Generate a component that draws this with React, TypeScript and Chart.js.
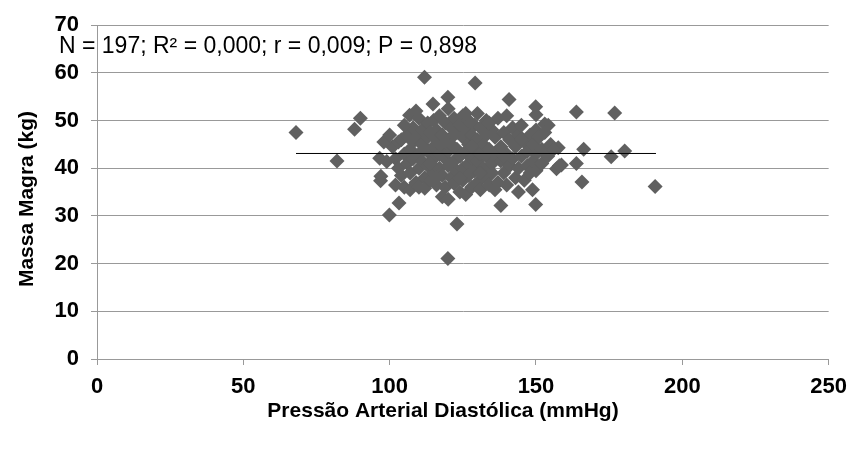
import React, { useEffect, useRef } from "react";
import { Chart, registerables } from "chart.js";

Chart.register(...registerables);

// Pressão Arterial Diastólica (mmHg)
const pressaoDiastolica = [
  68, 82, 88, 90, 96.6, 96.9, 99.9, 103.2, 106.8, 111.9, 114.8, 119.9, 129.2, 123, 119.9, 138, 149.9, 144, 148.8, 140.8,
  149.9, 150, 163.8, 176.9, 166.3, 180.3, 175.7, 165.7, 157, 163.8, 157.6, 153, 190.7, 158.7, 154.2,
  101, 102, 103, 103, 104, 104, 105, 105, 106, 106, 107, 107, 107, 108, 108, 108, 109, 109, 110, 110,
  110, 110, 111, 111, 111, 112, 112, 113, 113, 113, 113, 114, 114, 115, 115, 115, 115, 116, 116, 116,
  117, 117, 117, 118, 118, 118, 118, 119, 119, 119, 120, 120, 120, 120, 120, 121, 121, 121, 122, 122,
  122, 123, 123, 123, 124, 124, 124, 125, 125, 125, 125, 126, 126, 126, 127, 127, 127, 127, 128, 128,
  128, 129, 129, 129, 130, 130, 130, 130, 131, 131, 131, 132, 132, 133, 133, 133, 133, 134, 134, 135,
  135, 135, 136, 136, 137, 137, 138, 138, 139, 139, 140, 140, 140, 141, 141, 142, 142, 143, 143, 144,
  144, 145, 145, 146, 146, 147, 147, 148, 148, 149, 149, 150, 150, 150, 151, 152, 152, 153, 154, 155,
  156, 158,
  98, 99, 97, 100, 102, 105, 109, 112, 114, 116, 119, 122, 124, 126, 128, 131, 134, 136, 139, 145,
];

// Massa Magra (kg)
const massaMagra = [
  47.5, 41.5, 48.2, 50.5, 42.1, 37.4, 30.2, 32.7, 51.1, 59.1, 53.5, 54.9, 57.9, 28.3, 21.1, 32.2, 32.4, 35, 35.5, 54.4,
  52.9, 51.2, 51.8, 51.6, 44.0, 43.6, 42.4, 37.1, 39.9, 41, 44.3, 49.3, 36.2, 40.7, 49,
  44.5, 42, 45.5, 40, 46, 38.5, 43, 36, 47, 41, 44, 39, 35.5, 48.5, 45.5, 42, 37, 46.5, 50.5, 43,
  40, 36, 48, 45, 41.5, 38, 35.8, 49.5, 46.5, 43.5, 40.5, 47.5, 37.5, 50, 44.5, 42, 39, 48, 46, 36.5,
  51, 43, 40, 47, 44.5, 38.5, 34, 49.5, 42, 36, 52.5, 46, 43.5, 40.5, 33.5, 48.5, 45, 38, 50.5, 41.5,
  36.8, 47.5, 44, 39.5, 49, 42.5, 35, 51, 46.5, 40, 37.5, 48, 43.5, 34.5, 50, 45, 41, 38.5, 47, 42,
  36, 49, 44, 39.5, 51.5, 46, 41.5, 37, 48.5, 43, 35.5, 45, 40, 50, 47, 42.5, 38, 44, 36.5, 48,
  41, 39, 46.5, 43, 50.5, 37, 44.5, 41.5, 47.5, 39, 51, 43, 36.5, 46, 40.5, 48.5, 42, 44.5, 38, 47,
  40, 49, 42.5, 45.5, 37.5, 43.5, 40.5, 47, 39, 45, 41.5, 48, 43, 39.5, 46.5, 44, 41, 47.5, 42.5, 45,
  44, 40.5,
  45.5, 41.4, 38.3, 47, 36.5, 49, 52, 44, 41, 38, 45.5, 47, 38, 51.5, 44.5, 39, 49.5, 35.5, 42.5, 46,
];

// Linha de tendência
const trendX = [68, 191];
const trendY = [43.1, 43.1];

const xTickValues = [0, 50, 100, 150, 200, 250];
const yTickValues = [0, 10, 20, 30, 40, 50, 60, 70];

const annotationText = "N = 197; R² = 0,000; r = 0,009; P = 0,898";
const xTitle = "Pressão Arterial Diastólica (mmHg)";
const yTitle = "Massa Magra (kg)";

const FONT = "'Liberation Sans', Arial, sans-serif";

export default function App() {
  const canvasRef = useRef<HTMLCanvasElement | null>(null);

  useEffect(() => {
    const canvas = canvasRef.current;
    if (!canvas) return;

    const textPlugin = {
      id: "textPlugin",
      afterDraw(chart: any) {
        const ctx = chart.ctx as CanvasRenderingContext2D;
        ctx.save();
        ctx.fillStyle = "#000";
        ctx.font = `23px ${FONT}`;
        ctx.textAlign = "left";
        ctx.textBaseline = "middle";
        ctx.fillText(annotationText, 59, 47);

        ctx.font = `bold 21px ${FONT}`;
        ctx.textAlign = "center";
        ctx.fillText(xTitle, 443, 411);

        ctx.translate(27, 199);
        ctx.rotate(-Math.PI / 2);
        ctx.fillText(yTitle, 0, 0);
        ctx.restore();
      },
    };

    const chart = new Chart(canvas, {
      type: "scatter",
      data: {
        datasets: [
          {
            label: "Massa Magra",
            data: pressaoDiastolica.map((x, i) => ({ x, y: massaMagra[i] })),
            pointStyle: "rectRot",
            pointRadius: 7.5,
            backgroundColor: "#606060",
            borderColor: "#606060",
            borderWidth: 0,
            order: 2,
          },
          {
            type: "line",
            label: "Tendência",
            data: trendX.map((x, i) => ({ x, y: trendY[i] })),
            borderColor: "#000",
            borderWidth: 1,
            pointRadius: 0,
            fill: false,
            order: 1,
          } as any,
        ],
      },
      options: {
        responsive: false,
        animation: false,
        layout: { padding: { top: 22, right: 25, left: 0, bottom: 0 } },
        plugins: {
          legend: { display: false },
          tooltip: { enabled: false },
        },
        scales: {
          x: {
            type: "linear",
            min: 0,
            max: 250,
            afterBuildTicks: (scale: any) => {
              scale.ticks = xTickValues.map((v) => ({ value: v }));
            },
            afterFit: (scale: any) => {
              scale.height = 94;
            },
            ticks: {
              color: "#000",
              font: { family: FONT, size: 22, weight: "bold" },
              padding: 9,
            },
            grid: {
              drawOnChartArea: false,
              drawTicks: true,
              tickLength: 6,
              color: "#999",
            },
            border: { display: true, color: "#999" },
          },
          y: {
            type: "linear",
            min: 0,
            max: 70,
            afterBuildTicks: (scale: any) => {
              scale.ticks = yTickValues.map((v) => ({ value: v }));
            },
            afterFit: (scale: any) => {
              scale.width = 97;
            },
            ticks: {
              color: "#000",
              font: { family: FONT, size: 22, weight: "bold" },
              padding: 12,
            },
            grid: {
              drawTicks: true,
              tickLength: 6,
              color: "#999",
            },
            border: { display: true, color: "#999" },
          },
        },
      },
      plugins: [textPlugin],
    });

    return () => chart.destroy();
  }, []);

  return (
    <div style={{ position: "absolute", left: 0, top: 0, width: 856, height: 453, background: "#fff" }}>
      <canvas ref={canvasRef} width={856} height={453} />
    </div>
  );
}
